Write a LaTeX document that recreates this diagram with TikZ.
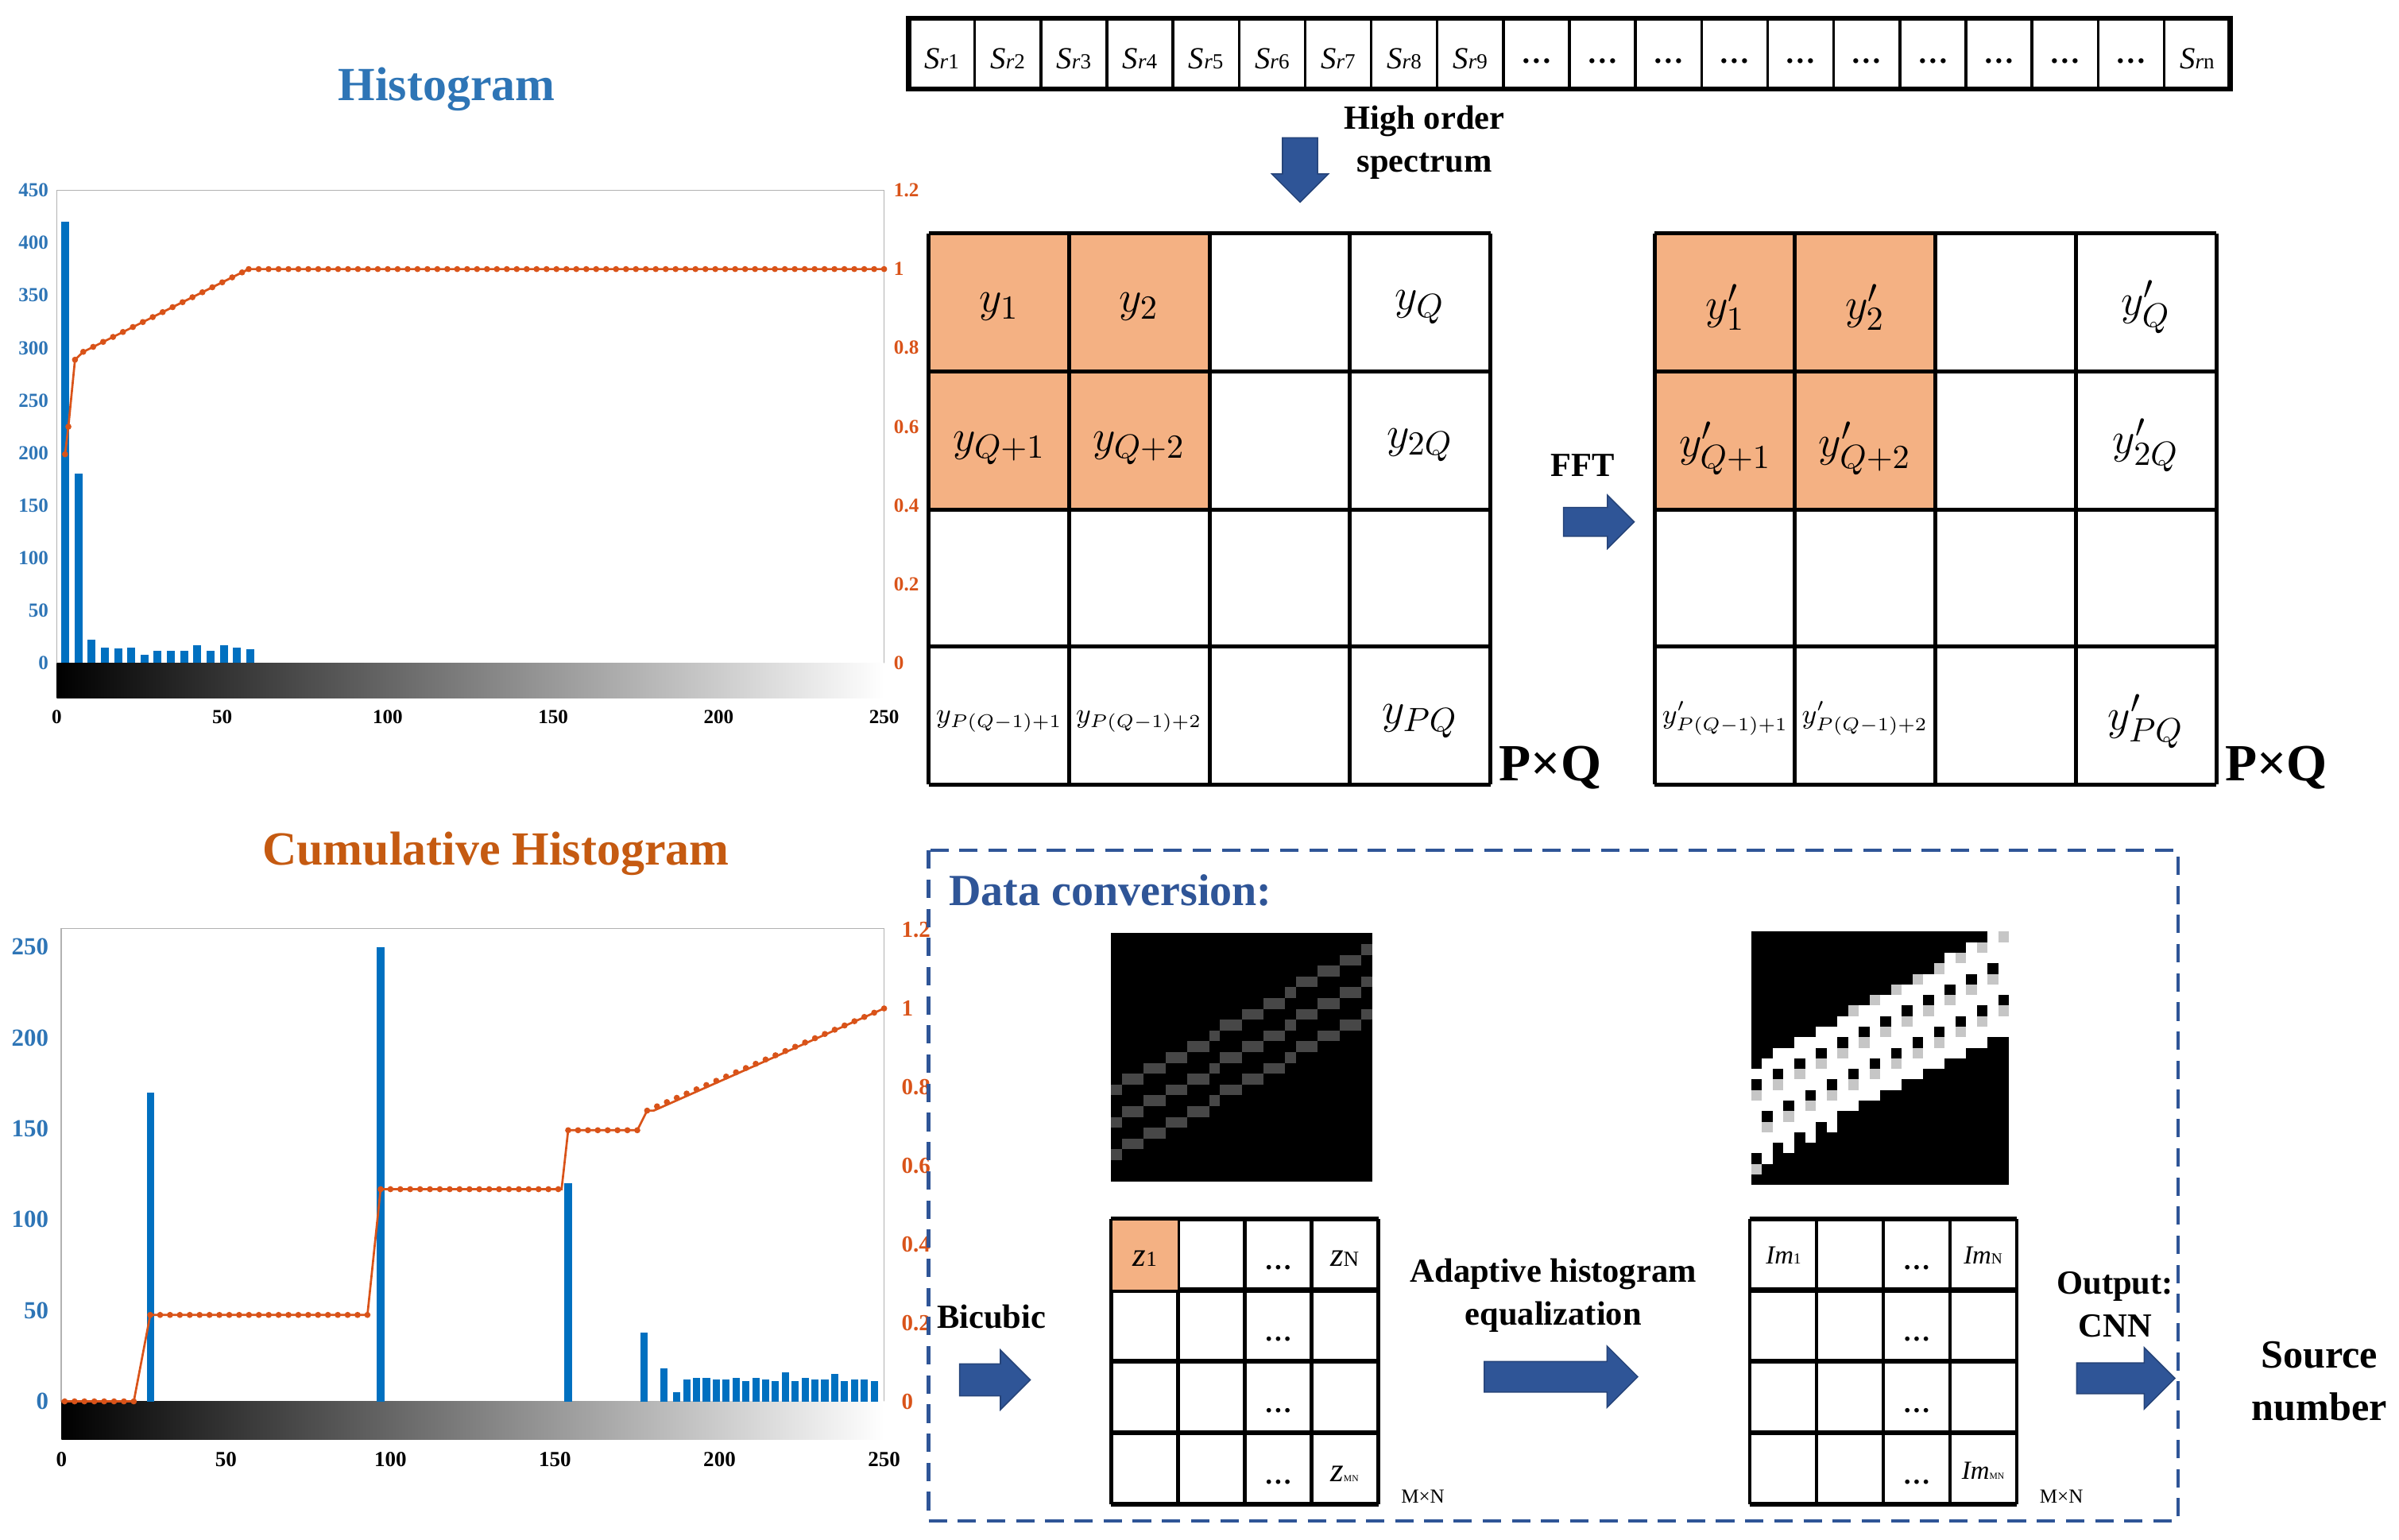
\documentclass[tikz,border=0pt]{standalone}
\usepackage{fontspec}
\setmainfont{Liberation Serif}
\usetikzlibrary{shapes.arrows}
\definecolor{hblue}{HTML}{2E75B6}
\definecolor{horange}{HTML}{C55A11}
\definecolor{barblue}{HTML}{0070C0}
\definecolor{lineor}{HTML}{D95319}
\definecolor{cellor}{HTML}{F4B183}
\definecolor{arrowblue}{HTML}{2F5597}
\begin{document}
\begin{tikzpicture}[x=0.5pt,y=-0.5pt,
  cellline/.style={line width=1.3pt,black},
  dot/.style={circle,fill=lineor,inner sep=0pt,minimum size=2pt},
  lt/.style={font=\fontsize{6.5}{7}\selectfont\bfseries,text=hblue,anchor=east,inner sep=1pt},
  rt/.style={font=\fontsize{6.5}{7}\selectfont\bfseries,text=lineor,anchor=west,inner sep=1pt},
  bt/.style={font=\fontsize{6.5}{7}\selectfont\bfseries,inner sep=1pt},
  blockarrow/.style={single arrow,fill=arrowblue,draw=arrowblue!80!black,single arrow head extend=4pt,inner sep=4.5pt},
  boldlbl/.style={font=\fontsize{11}{13}\selectfont\bfseries,align=center,inner sep=0pt},
  ml/.style={font=\fontsize{15}{16}\selectfont,inner sep=0pt},
  ms/.style={font=\fontsize{9}{10}\selectfont,inner sep=0pt}]
\useasboundingbox (0,0) rectangle (1563,1003);
% ---------- titles
\node[font=\fontsize{15.5}{17}\selectfont\bfseries,text=hblue] (t1) at (291,58) {Histogram};
\node[font=\fontsize{15.5}{17}\selectfont\bfseries,text=horange] (t2) at (323,556) {Cumulative Histogram};
% ---------- top chart
\draw[gray!60,line width=0.4pt] (37,124) rectangle (576,432);
\shade[left color=black,right color=white] (37,432) rectangle (576,455);
\foreach \v in {0,50,...,450} \node[lt] at (34,{432-0.6844*\v}) {\v};
\foreach \v/\l in {0/0,0.2/0.2,0.4/0.4,0.6/0.6,0.8/0.8,1/1,1.2/1.2} \node[rt] at (580,{432-256.7*\v}) {\l};
\foreach \v in {0,50,...,250} \node[bt] at ({37+2.156*\v},467) {\v};
\begin{scope}[shift={(37,432)},xscale=2.156,yscale=-0.6844]
 \foreach \x/\h in {2.5/420,6.5/180,10.5/22,14.5/15,18.5/14,22.5/15,26.5/8,30.5/12,34.5/12,38.5/12,42.5/17,46.5/12,50.5/17,54.5/15,58.5/13}
   \fill[barblue] (\x-1.2,0) rectangle (\x+1.2,\h);
\end{scope}
\begin{scope}[shift={(37,432)},xscale=2.156,yscale=-256.7]
 \draw[lineor,line width=0.7pt] (2.5,0.53) -- (3.5,0.6) -- (5.5,0.77) -- (8,0.79) -- (58,1) -- (250,1);
 \foreach \x/\y in {2.5/0.53,3.5/0.6,5.5/0.77} \node[dot] at (\x,\y) {};
 \foreach \x in {8,11,...,56} \node[dot] at (\x,{0.79+0.21*(\x-8)/50}) {};
 \foreach \x in {58,61,...,250} \node[dot] at (\x,1) {};
\end{scope}
% ---------- bottom chart
\draw[gray!60,line width=0.4pt] (40,605) rectangle (576,913);
\shade[left color=black,right color=white] (40,913) rectangle (576,938);
\foreach \v in {0,50,...,250} \node[lt,font=\fontsize{8}{9}\selectfont\bfseries] at (34,{913-1.184*\v}) {\v};
\foreach \v/\l in {0/0,0.2/0.2,0.4/0.4,0.6/0.6,0.8/0.8,1/1,1.2/1.2} \node[rt,font=\fontsize{7.5}{8}\selectfont\bfseries] at (585,{913-256*\v}) {\l};
\foreach \v in {0,50,...,250} \node[bt,font=\fontsize{7}{8}\selectfont\bfseries] at ({40+2.144*\v},951) {\v};
\begin{scope}[shift={(40,913)},xscale=2.144,yscale=-1.184]
 \foreach \x/\h in {27/170,97/250,154/120,177/38,183/18,187/5,190/12,193/13,196/13,199/12,202/12,205/13,208/11,211/13,214/12,217/11,220/16,223/11,226/13,229/12,232/12,235/15,238/11,241/12,244/12,247/11}
   \fill[barblue] (\x-1.1,0) rectangle (\x+1.1,\h);
\end{scope}
\begin{scope}[shift={(40,913)},xscale=2.144,yscale=-256]
 \draw[lineor,line width=0.7pt] (0,0) -- (22,0) -- (27,0.22) -- (93,0.22) -- (97,0.54) -- (152,0.54) -- (154,0.69) -- (175,0.69) -- (178,0.74) -- (180,0.74) -- (250,1);
 \foreach \x in {1,4,...,22} \node[dot] at (\x,0) {};
 \foreach \x in {27,30,...,93} \node[dot] at (\x,0.22) {};
 \foreach \x in {97,100,...,152} \node[dot] at (\x,0.54) {};
 \foreach \x in {154,157,...,175} \node[dot] at (\x,0.69) {};
 \foreach \x in {178,181,...,250} \node[dot] at (\x,{0.74+0.26*(\x-178)/72}) {};
\end{scope}
% ---------- top strip
\draw[line width=1.6pt] (592,12) rectangle (1453,58);
\foreach \i in {1,...,19} \draw[line width=0.9pt] ({592+43.05*\i},12) -- ({592+43.05*\i},58);
\foreach \i in {1,...,9} \node[font=\fontsize{10}{11}\selectfont] (s\i) at ({592+43.05*(\i-0.5)},38) {\textit{S}{\fontsize{7}{8}\selectfont\textit{r}\i}};
\foreach \i in {10,...,19} \node[font=\fontsize{10}{11}\selectfont\bfseries] (s\i) at ({592+43.05*(\i-0.5)},40) {\dots};
\node[font=\fontsize{10}{11}\selectfont] (s20) at ({592+43.05*19.5},38) {\textit{S}{\fontsize{7}{8}\selectfont\textit{r}n}};
\node[blockarrow,shape border rotate=270,minimum height=21pt,inner sep=5.5pt,single arrow head extend=3.5pt] (da) at (847,105) {};
\node[boldlbl] (hos) at (928,93) {High order\\[1pt] spectrum};
% ---------- matrices
\foreach \ox in {605,1078} {
 \fill[cellor] (\ox,152) rectangle (\ox+183,332);
 \foreach \i in {0,...,4} {
   \draw[cellline] ({\ox+91.5*\i},152) -- ({\ox+91.5*\i},511);
 }
 \draw[cellline] (\ox,152) -- (\ox+366,152);
 \draw[cellline] (\ox,242) -- (\ox+366,242);
 \draw[cellline] (\ox,332) -- (\ox+366,332);
 \draw[cellline] (\ox,421) -- (\ox+366,421);
 \draw[cellline] (\ox,511) -- (\ox+366,511);
}
\node[ml] (a1) at (651,200) {$y_1$};
\node[ml] (a2) at (742,200) {$y_2$};
\node[ml] (aq) at (925,200) {$y_Q$};
\node[ml] (a5) at (651,292) {$y_{Q+1}$};
\node[ml] (a6) at (742,292) {$y_{Q+2}$};
\node[ml] (a8) at (925,290) {$y_{2Q}$};
\node[ms] (a13) at (651,470) {$y_{P(Q-1)+1}$};
\node[ms] (a14) at (742,470) {$y_{P(Q-1)+2}$};
\node[ml] (a16) at (925,470) {$y_{PQ}$};
\node[ml] (b1) at (1124,200) {$y_1'$};
\node[ml] (b2) at (1215,200) {$y_2'$};
\node[ml] (bq) at (1398,200) {$y_Q'$};
\node[ml] (b5) at (1124,292) {$y_{Q+1}'$};
\node[ml] (b6) at (1215,292) {$y_{Q+2}'$};
\node[ml] (b8) at (1398,290) {$y_{2Q}'$};
\node[ms] (b13) at (1124,468) {$y_{P(Q-1)+1}'$};
\node[ms] (b14) at (1215,468) {$y_{P(Q-1)+2}'$};
\node[ml] (b16) at (1398,470) {$y_{PQ}'$};
\node[font=\fontsize{17}{18}\selectfont\bfseries,inner sep=0pt] (pq1) at (1010,500) {P×Q};
\node[font=\fontsize{17}{18}\selectfont\bfseries,inner sep=0pt] (pq2) at (1483,500) {P×Q};
\node[boldlbl] (fft) at (1031,303) {FFT};
\node[blockarrow,minimum height=23pt] (fa) at (1037,340) {};
% ---------- data conversion
\draw[arrowblue,line width=1.1pt,dash pattern=on 6pt off 3.5pt] (605,554) rectangle (1419,991);
\node[font=\fontsize{14.5}{16}\selectfont\bfseries,text=arrowblue,anchor=west,inner sep=0pt] (dc) at (618,580) {Data conversion:};
% image 1
\fill[black] (724,608) rectangle (894,770);
\foreach \c in {0,...,23} \foreach \k in {14,17,20} {
  \pgfmathtruncatemacro\r{round(\k-0.56*\c)}
  \ifnum\r>-1 \fill[black!72] ({724+7.08*\c},{608+7.04*\r}) rectangle ++(7.08,7.04); \fi
}
% image 2
\fill[black] (1141,607) rectangle (1309,772);
\foreach \c in {0,...,23} \foreach \d in {0,...,9} {
  \pgfmathtruncatemacro\r{round(12.5-0.56*\c)+\d}
  \pgfmathtruncatemacro\m{mod(\c*5+\r*3,7)}
  \ifnum\r>-1 \ifnum\r<24
    \ifnum\m=0 \else
      \ifnum\m=3 \fill[gray!45] ({1141+7*\c},{607+6.875*\r}) rectangle ++(7,6.875);
      \else \fill[white] ({1141+7*\c},{607+6.875*\r}) rectangle ++(7,6.875); \fi
    \fi
  \fi\fi
}
% grids
\foreach \ox in {724,1140} {
 \foreach \i in {0,...,4} \draw[line width=1.1pt] ({\ox+43.5*\i},794) -- ({\ox+43.5*\i},980);
 \foreach \j in {0,...,4} \draw[line width=1.6pt] (\ox,{794+46.5*\j}) -- (\ox+174,{794+46.5*\j});
 \foreach \j in {0,...,3} \node[font=\fontsize{9}{10}\selectfont\bfseries] at ({\ox+43.5*2.5},{794+46.5*\j+32}) {\dots};
}
\fill[cellor] (725,795) rectangle (767,840);
\node[font=\fontsize{11}{12}\selectfont] (z1) at (746,820) {\textit{z}{\fontsize{7}{8}\selectfont 1}};
\node[font=\fontsize{11}{12}\selectfont] (zn) at (876,820) {\textit{z}{\fontsize{7}{8}\selectfont N}};
\node[font=\fontsize{11}{12}\selectfont] (zmn) at (876,960) {\textit{z}{\fontsize{3}{4}\selectfont MN}};
\node[font=\fontsize{8.5}{10}\selectfont] (im1) at (1162,818) {\textit{Im}{\fontsize{5}{6}\selectfont 1}};
\node[font=\fontsize{8.5}{10}\selectfont] (imn) at (1292,818) {\textit{Im}{\fontsize{5}{6}\selectfont N}};
\node[font=\fontsize{8.5}{10}\selectfont] (immn) at (1292,958) {\textit{Im}{\fontsize{3}{4}\selectfont MN}};
\node[font=\fontsize{6.5}{7}\selectfont,inner sep=0pt] (mn1) at (927,975) {M×N};
\node[font=\fontsize{6.5}{7}\selectfont,inner sep=0pt] (mn2) at (1343,975) {M×N};
\node[boldlbl] (bic) at (646,858) {Bicubic};
\node[blockarrow,minimum height=23pt,inner sep=5pt,single arrow head extend=4.5pt] (ba) at (643,899) {};
\node[boldlbl] (ahe) at (1012,844) {Adaptive histogram\\[1pt] equalization};
\node[blockarrow,minimum height=50pt,inner sep=4.8pt,single arrow head extend=5pt] (aa) at (1012,897) {};
\node[boldlbl] (out) at (1378,850) {Output:\\[1pt] CNN};
\node[blockarrow,minimum height=32pt,inner sep=4.8pt,single arrow head extend=5pt] (oa) at (1380,898) {};
\node[font=\fontsize{13}{15}\selectfont\bfseries,align=center,inner sep=0pt] (src) at (1511,900) {Source\\[2pt] number};
\end{tikzpicture}
\end{document}
